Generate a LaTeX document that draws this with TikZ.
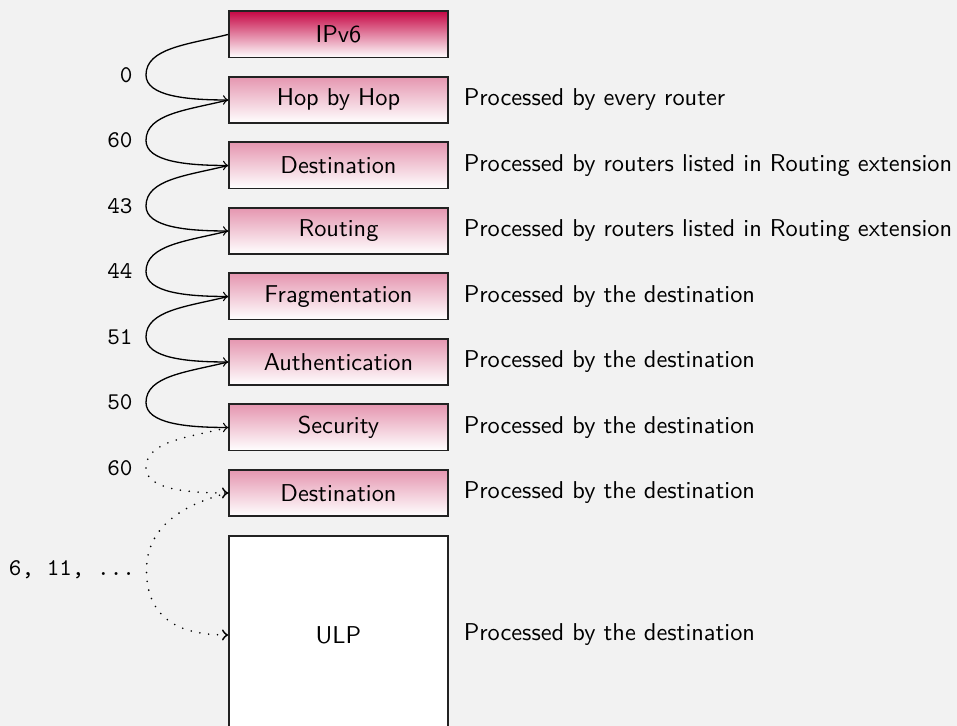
\documentclass[tikz,border=0pt]{standalone}
\usetikzlibrary{positioning}
\definecolor{bgpaper}{RGB}{242,242,242}
\definecolor{hdrtop}{RGB}{198,8,70}
\definecolor{exttop}{RGB}{229,150,176}
\definecolor{edgeink}{RGB}{34,34,34}
\begin{document}
\begin{tikzpicture}[x=0.41667pt,y=-0.41667pt,
  hdrbox/.style={draw=edgeink, line width=0.8pt, minimum width=91.25pt,
    minimum height=19.2pt, inner sep=0pt, font=\sffamily\fontsize{10.15}{12}\selectfont,
    top color=hdrtop, bottom color=white},
  extbox/.style={hdrbox, top color=exttop, bottom color=white},
  ulpbox/.style={draw=edgeink, line width=0.8pt, fill=white, minimum width=91.25pt,
    minimum height=82.5pt, inner sep=0pt, font=\sffamily\fontsize{10.15}{12}\selectfont},
  note/.style={anchor=west, inner sep=0pt, font=\sffamily\fontsize{10.15}{12}\selectfont},
  num/.style={anchor=east, inner sep=0pt, font=\ttfamily},
  link/.style={->, line width=0.55pt, black},
  weaklink/.style={->, line width=0.75pt, black, line cap=round,
    dash pattern=on 0pt off 3.7pt}]

% paper
\fill[bgpaper] (0,0) rectangle (957,726);
\clip (0,0) rectangle (957,726);

% header chain
\node[hdrbox] (ipv6)  at (338.5,34.5)  {IPv6};
\node[extbox] (hop)   at (338.5,100)   {Hop by Hop};
\node[extbox] (dst1)  at (338.5,165.5) {Destination};
\node[extbox] (rout)  at (338.5,231)   {Routing};
\node[extbox] (frag)  at (338.5,296.5) {Fragmentation};
\node[extbox] (auth)  at (338.5,362)   {Authentication};
\node[extbox] (sec)   at (338.5,427.5) {Security};
\node[extbox] (dst2)  at (338.5,493)   {Destination};
\node[ulpbox] (ulp)   at (338.5,635)   {ULP};

% who processes each header
\node[note, right=6pt of hop]  (t1) {Processed by every router};
\node[note, right=6pt of dst1] (t2) {Processed by routers listed in Routing extension};
\node[note, right=6pt of rout] (t3) {Processed by routers listed in Routing extension};
\node[note, right=6pt of frag] (t4) {Processed by the destination};
\node[note, right=6pt of auth] (t5) {Processed by the destination};
\node[note, right=6pt of sec]  (t6) {Processed by the destination};
\node[note, right=6pt of dst2] (t7) {Processed by the destination};
\node[note, right=6pt of ulp]  (t8) {Processed by the destination};

% turning points of the next-header links
\coordinate (k1) at (146,75);
\coordinate (k2) at (146,140.5);
\coordinate (k3) at (146,206);
\coordinate (k4) at (146,271.5);
\coordinate (k5) at (146,337);
\coordinate (k6) at (146,402.5);
\coordinate (k7) at (146,468);
\coordinate (k8) at (146.5,570);

% short hop: leave slightly downwards, turn at k, come in flat
\tikzset{hopcurve/.style={to path={
  .. controls +(-40,10) and +(0,-27) .. (#1)
  .. controls +(0,21) and +(-42,0) .. (\tikztotarget)}}}

\draw[link] (ipv6.west) to[hopcurve=k1] (hop.west);
\draw[link] (hop.west)  to[hopcurve=k2] (dst1.west);
\draw[link] (dst1.west) to[hopcurve=k3] (rout.west);
\draw[link] (rout.west) to[hopcurve=k4] (frag.west);
\draw[link] (frag.west) to[hopcurve=k5] (auth.west);
\draw[link] (auth.west) to[hopcurve=k6] (sec.west);
\draw[weaklink] (sec.west) to[hopcurve=k7] (dst2.west);
\draw[weaklink] (dst2.west)
  .. controls +(-40,10) and +(0,-46) .. (k8)
  .. controls +(0,52) and +(-44,0) .. (ulp.west);

% next-header values
\node[num, left=5.4pt of k1] (n1) {0};
\node[num, left=5.4pt of k2] (n2) {60};
\node[num, left=5.4pt of k3] (n3) {43};
\node[num, left=5.4pt of k4] (n4) {44};
\node[num, left=5.4pt of k5] (n5) {51};
\node[num, left=5.4pt of k6] (n6) {50};
\node[num, left=5.4pt of k7] (n7) {60};
\node[num, left=4.6pt of k8] (n8) {6, 11, ...};
\end{tikzpicture}
\end{document}
